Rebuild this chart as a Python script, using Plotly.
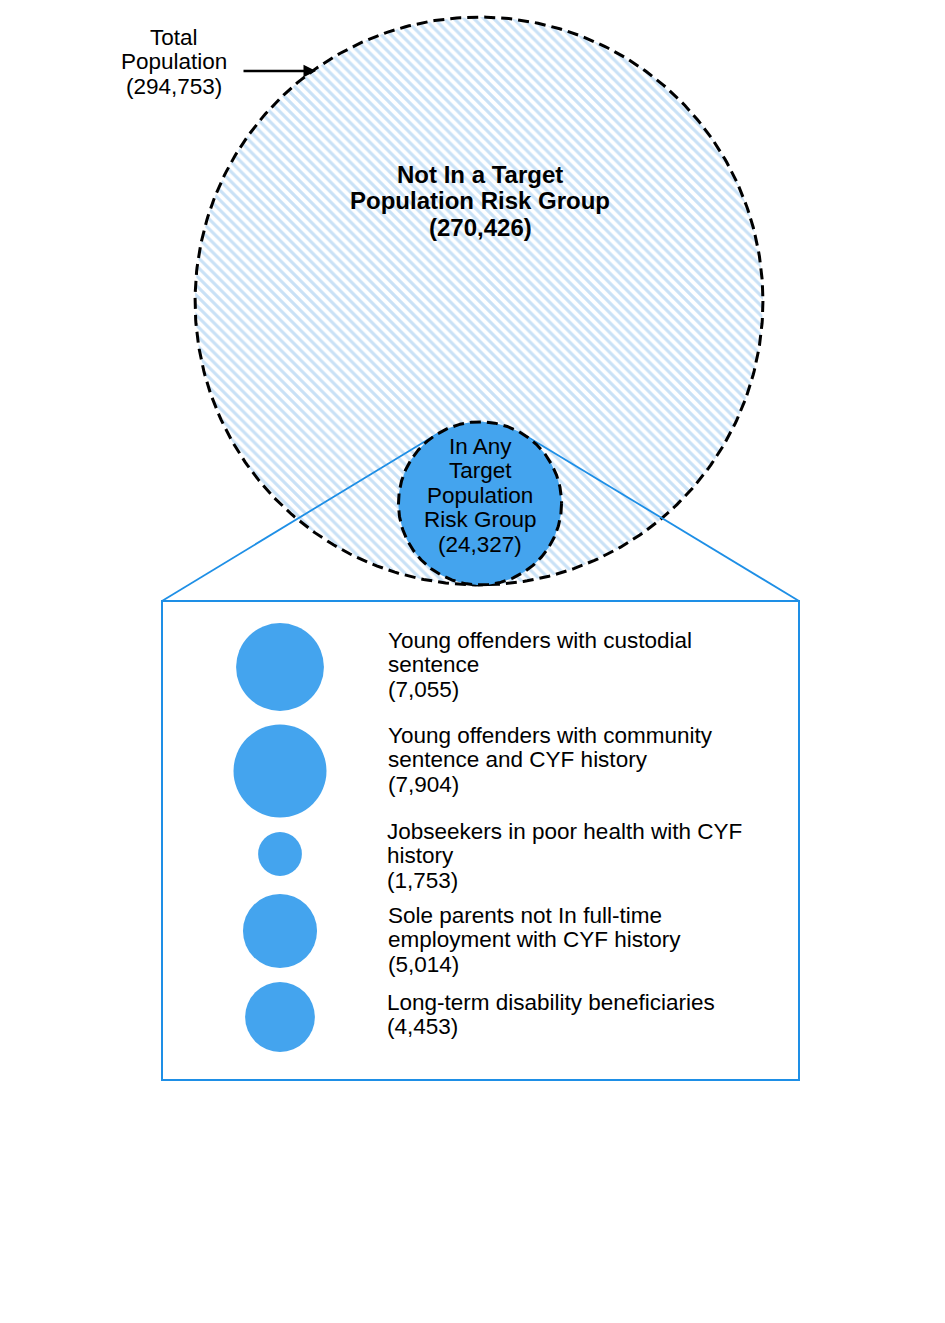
import numpy as np
import plotly.graph_objects as go

# ---- data ----
total_label = ["Total", "Population"]
total_count = 294753
not_target_label = ["Not In a Target", "Population Risk Group"]
not_target_count = 270426
in_target_label = ["In Any", "Target", "Population", "Risk Group"]
in_target_count = 24327

group_labels = [
    ["Young offenders with custodial", "sentence"],
    ["Young offenders with community", "sentence and CYF history"],
    ["Jobseekers in poor health with CYF", "history"],
    ["Sole parents not In full-time", "employment with CYF history"],
    ["Long-term disability beneficiaries"],
]
group_counts = [7055, 7904, 1753, 5014, 4453]

# ---- layout constants (pixels) ----
W, H = 945, 1323
SCALE = 0.523          # px radius per sqrt(person)
BIG_CX, BIG_CY = 479, 301
INSET_CX = 280
INSET_CY = [667, 771, 854, 931, 1017]
INSET_TEXT_TOP = [640, 735, 831, 915, 1002]
INSET_TEXT_X = [386, 386, 385, 386, 385]
LINE = 24.5
BOLD_LINE = 26.5
BOX = (162, 601, 799, 1080)
FONT = "Liberation Sans, Arial, sans-serif"
FS = 22.5
BLUE_FILL = "#44a4ee"
BLUE_LINE = "#1e8fe6"
HATCH = "#94c4ee"


def fmt(n):
    return f"({n:,})"


def circle(cx, cy, r, n=481):
    t = np.linspace(0, 2 * np.pi, n)
    return cx + r * np.cos(t), cy + r * np.sin(t)


def add_lines(fig, lines, x, y_top, spacing, xanchor, size, bold=False):
    for i, ln in enumerate(lines):
        txt = f"<b>{ln}</b>" if bold else ln
        fig.add_annotation(x=x, y=y_top + i * spacing, text=txt, showarrow=False,
                           xanchor=xanchor, yanchor="middle", align=xanchor,
                           font=dict(family=FONT, size=size, color="black"))


r_big = SCALE * np.sqrt(total_count)
r_small = SCALE * np.sqrt(in_target_count)
small_cx, small_cy = BIG_CX + 1, BIG_CY + r_big - r_small

fig = go.Figure()

# big hatched circle
bx, by = circle(BIG_CX, BIG_CY, r_big)
fig.add_trace(go.Scatter(
    x=bx, y=by, mode="lines", fill="toself",
    fillpattern=dict(shape="\\", fgcolor=HATCH, bgcolor="white", size=7, solidity=0.45),
    line=dict(color="black", width=3, dash="11px,6px"),
    hoverinfo="skip", showlegend=False))

# connector lines from box corners to small circle
ang_l = np.deg2rad(-121)
ang_r = np.deg2rad(-59)
lx = small_cx + r_small * np.cos(ang_l)
ly = small_cy + r_small * np.sin(ang_l)
rx = small_cx + r_small * np.cos(ang_r)
ry = small_cy + r_small * np.sin(ang_r)
fig.add_trace(go.Scatter(x=[BOX[0], lx], y=[BOX[1], ly], mode="lines",
                         line=dict(color=BLUE_LINE, width=1.8), hoverinfo="skip", showlegend=False))
fig.add_trace(go.Scatter(x=[BOX[2], rx], y=[BOX[1], ry], mode="lines",
                         line=dict(color=BLUE_LINE, width=1.8), hoverinfo="skip", showlegend=False))

# small solid circle with dashed outline
sx, sy = circle(small_cx, small_cy, r_small)
fig.add_trace(go.Scatter(
    x=sx, y=sy, mode="lines", fill="toself", fillcolor=BLUE_FILL,
    line=dict(color="black", width=3, dash="11px,6px"),
    hoverinfo="skip", showlegend=False))

# inset box
fig.add_shape(type="rect", x0=BOX[0], y0=BOX[1], x1=BOX[2], y1=BOX[3],
              line=dict(color=BLUE_LINE, width=2), fillcolor="rgba(0,0,0,0)", layer="above")

# inset circles sized by area
fig.add_trace(go.Scatter(
    x=[INSET_CX] * len(group_counts), y=INSET_CY, mode="markers",
    marker=dict(size=[2 * SCALE * np.sqrt(v) for v in group_counts],
                sizemode="diameter", color=BLUE_FILL, opacity=1, line=dict(width=0)),
    hoverinfo="skip", showlegend=False))

# labels
for lab, cnt, tx, ty in zip(group_labels, group_counts, INSET_TEXT_X, INSET_TEXT_TOP):
    add_lines(fig, lab + [fmt(cnt)], tx, ty, LINE, "left", FS)

add_lines(fig, total_label + [fmt(total_count)], 174, 37, LINE, "center", FS)
add_lines(fig, not_target_label + [fmt(not_target_count)], 480, 174, BOLD_LINE, "center", 24, bold=True)
add_lines(fig, in_target_label + [fmt(in_target_count)], 480, 446, LINE, "center", FS)

# arrow
fig.add_annotation(x=316, y=71, ax=242, ay=71, xref="x", yref="y", axref="x", ayref="y",
                   text="", showarrow=True, arrowhead=2, arrowsize=1, arrowwidth=2.5,
                   arrowcolor="black")

fig.update_layout(
    width=W, height=H, margin=dict(l=0, r=0, t=0, b=0),
    paper_bgcolor="white", plot_bgcolor="white", showlegend=False,
    xaxis=dict(range=[0, W], visible=False, fixedrange=True),
    yaxis=dict(range=[H, 0], visible=False, fixedrange=True),
)

fig.write_html("out.html")
